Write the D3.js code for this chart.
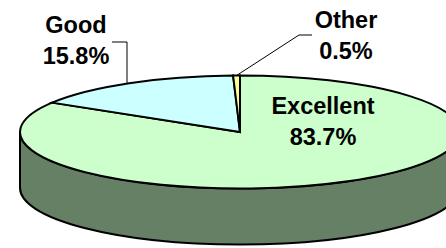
<!DOCTYPE html>
<html>
<head>
<meta charset="utf-8">
<script src="https://cdn.jsdelivr.net/npm/d3@7"></script>
<style>
  html, body { margin: 0; padding: 0; background: #fff; }
  svg { display: block; }
  .lbl { font-family: 'Liberation Sans', Arial, sans-serif; font-weight: bold; font-size: 23.5px; fill: #000; text-anchor: middle; }
</style>
</head>
<body>
<div id="chart"></div>
<script>
// data
const categories = ['Excellent', 'Good', 'Other'];
const values = [83.7, 15.8, 0.5];
const labels = ['83.7%', '15.8%', '0.5%'];

// colours (top face / side face)
const topColors = ['#ccffcc', '#ccffff', '#ffff99'];
const sideColors = ['#668066', '#668080', '#808066'];

const width = 446, height = 248;
const cx = 240, cy = 132, rx = 220, ry = 56.5, depth = 56;

// label placement relative to pie centre (layout, not data)
const labelLayout = [
  { dx: 83, dy: -18 },   // Excellent
  { dx: -164, dy: -99 }, // Good
  { dx: 106, dy: -104 }  // Other
];

const svg = d3.select('#chart').append('svg')
  .attr('width', width)
  .attr('height', height);

const pie = d3.pie().sort(null).startAngle(0).endAngle(2 * Math.PI);
const arcs = pie(values);

const px = a => cx + rx * Math.sin(a);
const py = a => cy - ry * Math.cos(a);

function topPath(d) {
  const large = d.endAngle - d.startAngle > Math.PI ? 1 : 0;
  return `M${cx},${cy}L${px(d.startAngle)},${py(d.startAngle)}` +
    `A${rx},${ry} 0 ${large} 1 ${px(d.endAngle)},${py(d.endAngle)}Z`;
}

function sidePath(d) {
  // only the front half (pi/2 .. 3pi/2) of the rim is visible
  const a0 = Math.max(d.startAngle, Math.PI / 2);
  const a1 = Math.min(d.endAngle, 3 * Math.PI / 2);
  if (a1 <= a0) return null;
  const large = a1 - a0 > Math.PI ? 1 : 0;
  return `M${px(a0)},${py(a0)}` +
    `A${rx},${ry} 0 ${large} 1 ${px(a1)},${py(a1)}` +
    `L${px(a1)},${py(a1) + depth}` +
    `A${rx},${ry} 0 ${large} 0 ${px(a0)},${py(a0) + depth}Z`;
}

const g = svg.append('g');

g.selectAll('path.side')
  .data(arcs.filter(d => sidePath(d)))
  .enter().append('path')
  .attr('class', 'side')
  .attr('d', sidePath)
  .attr('fill', d => sideColors[d.index])
  .attr('stroke', '#000')
  .attr('stroke-width', 2)
  .attr('stroke-linejoin', 'round');

g.selectAll('path.top')
  .data(arcs)
  .enter().append('path')
  .attr('class', 'top')
  .attr('d', topPath)
  .attr('fill', d => topColors[d.index])
  .attr('stroke', '#000')
  .attr('stroke-width', 2)
  .attr('stroke-linejoin', 'miter');

// leader lines
const ellipseY = x => cy - ry * Math.sqrt(1 - Math.pow((x - cx) / rx, 2));
const goodX = 127;
const other = arcs[2];
const otherMid = (other.startAngle + other.endAngle) / 2;
const leaders = [
  [[112, 42], [goodX, 42], [goodX, ellipseY(goodX)]],
  [[312, 35], [299, 35], [px(otherMid), py(otherMid)]]
];
svg.selectAll('path.leader')
  .data(leaders)
  .enter().append('path')
  .attr('class', 'leader')
  .attr('d', d3.line())
  .attr('fill', 'none')
  .attr('stroke', '#000')
  .attr('stroke-width', 1);

// labels
const lbl = svg.selectAll('text.lbl')
  .data(arcs)
  .enter().append('text')
  .attr('class', 'lbl')
  .attr('x', d => cx + labelLayout[d.index].dx)
  .attr('y', d => cy + labelLayout[d.index].dy);
lbl.append('tspan').text(d => categories[d.index]);
lbl.append('tspan')
  .attr('x', d => cx + labelLayout[d.index].dx)
  .attr('dy', 31)
  .text(d => labels[d.index]);
</script>
</body>
</html>
